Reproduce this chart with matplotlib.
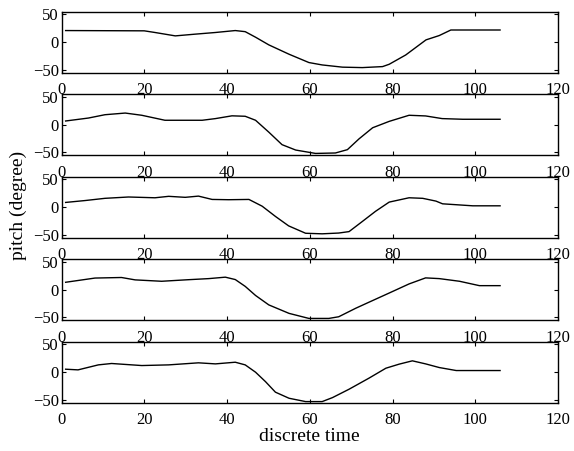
import matplotlib
matplotlib.use("Agg")
import matplotlib.pyplot as plt

plt.rcParams['font.family'] = ['Liberation Serif', 'DejaVu Serif']

# pitch traces, one per trial: (time, degree) knots
t1 = [1, 20, 22.6, 27.5, 32.3, 37.2, 42, 44.4, 46.9, 50.1, 55, 59.8, 63, 67.9,
      72.7, 77.6, 79.2, 83.2, 88.1, 91.3, 94.1, 106]
p1 = [21, 20.5, 17.5, 11.4, 14.5, 17.5, 21, 19, 9, -4.8, -21.7, -36.7, -41, -45,
      -45.8, -44, -39.8, -23, 4.2, 12, 22, 22]

t2 = [1, 6.5, 10.5, 15.4, 19.4, 25, 34, 37.2, 41.2, 44.4, 46.9, 50.1, 53.3, 56.6,
      61.4, 66.2, 69.1, 71.9, 75.2, 79.2, 84, 88, 92, 97, 106]
p2 = [6.7, 12, 18, 21, 17, 8, 8, 11, 16, 15.2, 8, -13.4, -36, -45.7,
      -51.8, -51, -45, -25.6, -5.5, 6, 17, 15.8, 11, 9.8, 9.8]

t3 = [1, 5.7, 10.5, 16.2, 22.6, 25.9, 29.9, 33.1, 36.4, 40.4, 45.3, 48.5, 51.7,
      54.9, 59, 63, 67, 69.5, 72.7, 75.9, 79.2, 84, 87.3, 90.5, 92.1, 99.4, 106]
p3 = [8.6, 12, 16, 18.4, 17, 19.6, 17.8, 20, 14, 13.5, 14, 1.8, -16.6,
      -33.7, -47, -48, -46.6, -44, -25.8, -7.4, 9.2, 17, 16, 11, 6.1, 2.5, 2.5]

t4 = [1, 8.1, 14.5, 17.8, 24.2, 30.6, 35.6, 39.6, 42, 44.4, 46.9, 50.1, 55,
      59.8, 64.6, 67, 71.1, 74.3, 79.2, 84, 88, 91.3, 96.2, 101, 106]
p4 = [13.4, 21, 22, 17.7, 15.2, 18, 20, 22.6, 18.3, 6, -10.4, -27.4, -42.7,
      -51.8, -51.8, -48.8, -33.5, -22.6, -6, 10.4, 21.3, 20, 15.2, 7.3, 7.3]

t5 = [1, 4, 8.9, 12.1, 19.4, 25.9, 33.1, 37.2, 42, 44.4, 46.9, 49.3, 51.7, 55,
      59, 63, 65.5, 69.5, 74.3, 78.4, 81.6, 84.8, 88, 91.3, 95.4, 106]
p5 = [5.4, 4.2, 13.2, 15.7, 12, 13.2, 16.9, 15, 18, 13.2, 0, -17, -36, -47,
      -53, -53, -45.8, -30.7, -10.8, 7.2, 14.5, 20.5, 15, 8.4, 3, 3]

traces = [(t1, p1), (t2, p2), (t3, p3), (t4, p4), (t5, p5)]
x_ticks = [0, 20, 40, 60, 80, 100, 120]
y_ticks = [-50, 0, 50]

W, H = 574, 451
fig = plt.figure(figsize=(W / 100, H / 100), dpi=100)

left, right = 61.5, 558
panel_h = 61
panel_step = 82.5
first_top = 11.7

axes = []
for i, (t, p) in enumerate(traces):
    top = first_top + i * panel_step
    ax = fig.add_axes([left / W, 1 - (top + panel_h) / H,
                       (right - left) / W, panel_h / H])
    ax.plot(t, p, color='black', linewidth=1.0)
    ax.set_xlim(0, 120)
    ax.set_ylim(-55, 55)
    ax.set_xticks(x_ticks)
    ax.set_yticks(y_ticks)
    ax.tick_params(direction='in', length=3, width=0.8, top=True, right=True,
                   labelsize=12, colors='black')
    ax.tick_params(axis='x', pad=7)
    ax.tick_params(axis='y', pad=2)
    for s in ax.spines.values():
        s.set_linewidth(1.0)
    axes.append(ax)

axes[-1].set_xlabel('discrete time', fontsize=14, labelpad=0)
fig.text(18 / W, 1 - 205 / H, 'pitch (degree)', rotation=90, fontsize=14,
         ha='center', va='center')

fig.savefig('out.png', dpi=100)
